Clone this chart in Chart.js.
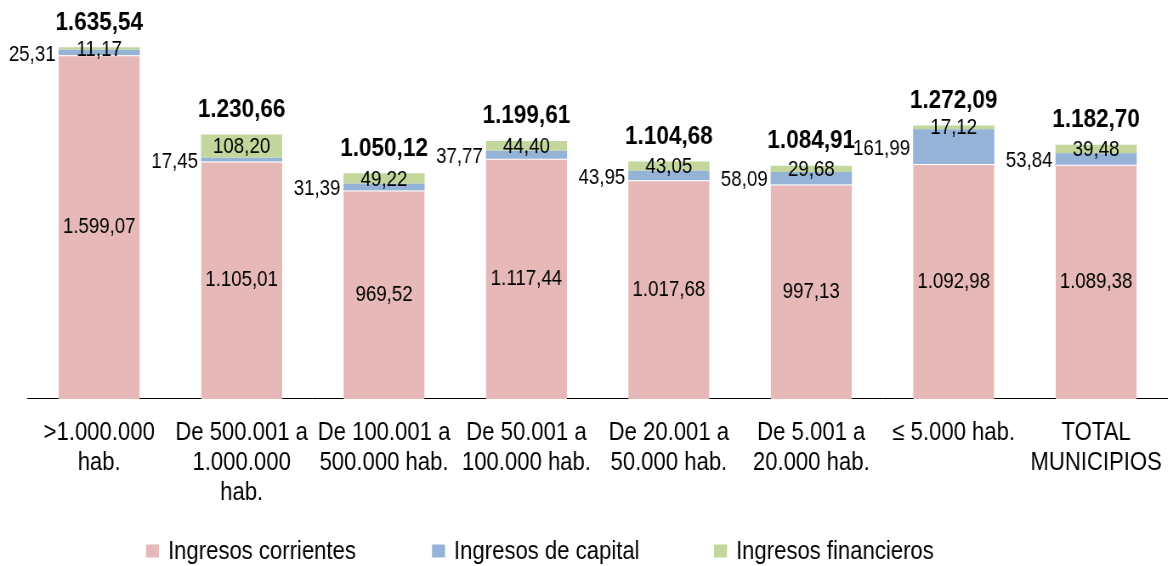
<!DOCTYPE html>
<html>
<head>
<meta charset="utf-8">
<script src="https://cdn.jsdelivr.net/npm/chart.js@4"></script>
<style>
  html, body { margin: 0; padding: 0; background: #fff; overflow: hidden; }
  /* no narrow font installed: draw on a wider canvas and squeeze it horizontally */
  #wrap { width: 1378px; height: 566px; transform: scaleX(0.85); transform-origin: 0 0; }
</style>
</head>
<body>
<div id="wrap"><canvas id="chart" width="1378" height="566"></canvas></div>
<script>
const SQ = 0.85; // horizontal squeeze, reference px -> canvas px = x / SQ

// Categories (tramos de población)
const categories = [
  [">1.000.000", "hab."],
  ["De 500.001 a", "1.000.000", "hab."],
  ["De 100.001 a", "500.000 hab."],
  ["De 50.001 a", "100.000 hab."],
  ["De 20.001 a", "50.000 hab."],
  ["De 5.001 a", "20.000 hab."],
  ["≤ 5.000 hab."],
  ["TOTAL", "MUNICIPIOS"]
];

// Series values (euros por habitante)
const corrientes = [1599.07, 1105.01, 969.52, 1117.44, 1017.68, 997.13, 1092.98, 1089.38];
const capital = [25.31, 17.45, 31.39, 37.77, 43.95, 58.09, 161.99, 53.84];
const financieros = [11.17, 108.20, 49.22, 44.40, 43.05, 29.68, 17.12, 39.48];
const totales = [1635.54, 1230.66, 1050.12, 1199.61, 1104.68, 1084.91, 1272.09, 1182.70];

const colors = ["#E6B9B8", "#95B3D7", "#C3D69B"];
const FONT = "'Liberation Sans', Arial, sans-serif";

// Spanish number format: 1.234,56
function fmt(v) {
  const parts = v.toFixed(2).split(".");
  const intPart = parts[0].replace(/\B(?=(\d{3})+(?!\d))/g, ".");
  return intPart + "," + parts[1];
}

// Value labels, placed from the bar elements the library computed
const labelPlugin = {
  id: "valueLabels",
  afterDatasetsDraw(chart) {
    const ctx = chart.ctx;
    const m0 = chart.getDatasetMeta(0);
    const m1 = chart.getDatasetMeta(1);
    const m2 = chart.getDatasetMeta(2);
    ctx.save();
    ctx.fillStyle = "#000";
    ctx.textBaseline = "middle";
    m0.data.forEach((bar, i) => {
      const left = bar.x - bar.width / 2;
      ctx.font = "22px " + FONT;
      ctx.textAlign = "center";
      ctx.fillText(fmt(corrientes[i]), bar.x, (bar.y + bar.base) / 2);
      const b1 = m1.data[i];
      ctx.textAlign = "right";
      ctx.fillText(fmt(capital[i]), left - 3 / SQ, (b1.y + b1.base) / 2 + 2);
      const b2 = m2.data[i];
      ctx.textAlign = "center";
      ctx.fillText(fmt(financieros[i]), bar.x, (b2.y + b2.base) / 2 + 1);
      ctx.font = "bold 26.5px " + FONT;
      ctx.fillText(fmt(totales[i]), bar.x, b2.y - 25);
    });
    ctx.restore();
  }
};

// Legend drawn by hand so the wide gaps between items can be kept
const legendPlugin = {
  id: "wideLegend",
  afterDraw(chart) {
    const ctx = chart.ctx;
    const startX = [146, 432, 714];
    const cy = 551;
    ctx.save();
    ctx.font = "26px " + FONT;
    ctx.textBaseline = "middle";
    ctx.textAlign = "left";
    chart.data.datasets.forEach((ds, i) => {
      const x = startX[i] / SQ;
      ctx.fillStyle = ds.backgroundColor;
      ctx.fillRect(x, cy - 6.5, 13 / SQ, 13);
      ctx.fillStyle = "#000";
      ctx.fillText(ds.label, x + 22 / SQ, cy + 1);
    });
    ctx.restore();
  }
};

new Chart(document.getElementById("chart"), {
  type: "bar",
  data: {
    labels: categories,
    datasets: [
      { label: "Ingresos corrientes", data: corrientes, backgroundColor: colors[0], borderColor: "#fff", borderWidth: { top: 1 } },
      { label: "Ingresos de capital", data: capital, backgroundColor: colors[1], borderWidth: 0 },
      { label: "Ingresos financieros", data: financieros, backgroundColor: colors[2], borderWidth: 0 }
    ]
  },
  options: {
    responsive: false,
    animation: false,
    layout: { padding: { left: 28 / SQ, right: 4 / SQ, top: 12, bottom: 39 } },
    categoryPercentage: 0.57,
    barPercentage: 1,
    scales: {
      x: {
        stacked: true,
        grid: { display: false, drawTicks: false },
        border: { display: true, color: "#000", width: 1 },
        ticks: {
          color: "#000",
          font: { family: FONT, size: 26, lineHeight: 1.154 },
          maxRotation: 0,
          autoSkip: false,
          padding: 19
        },
        // labels may overhang the plot edges, as in the original
        afterFit(scale) {
          scale.paddingLeft = 0;
          scale.paddingRight = 0;
        }
      },
      y: {
        stacked: true,
        display: false,
        min: 0,
        max: 1800
      }
    },
    plugins: {
      legend: { display: false },
      tooltip: { enabled: false }
    }
  },
  plugins: [labelPlugin, legendPlugin]
});
</script>
</body>
</html>
